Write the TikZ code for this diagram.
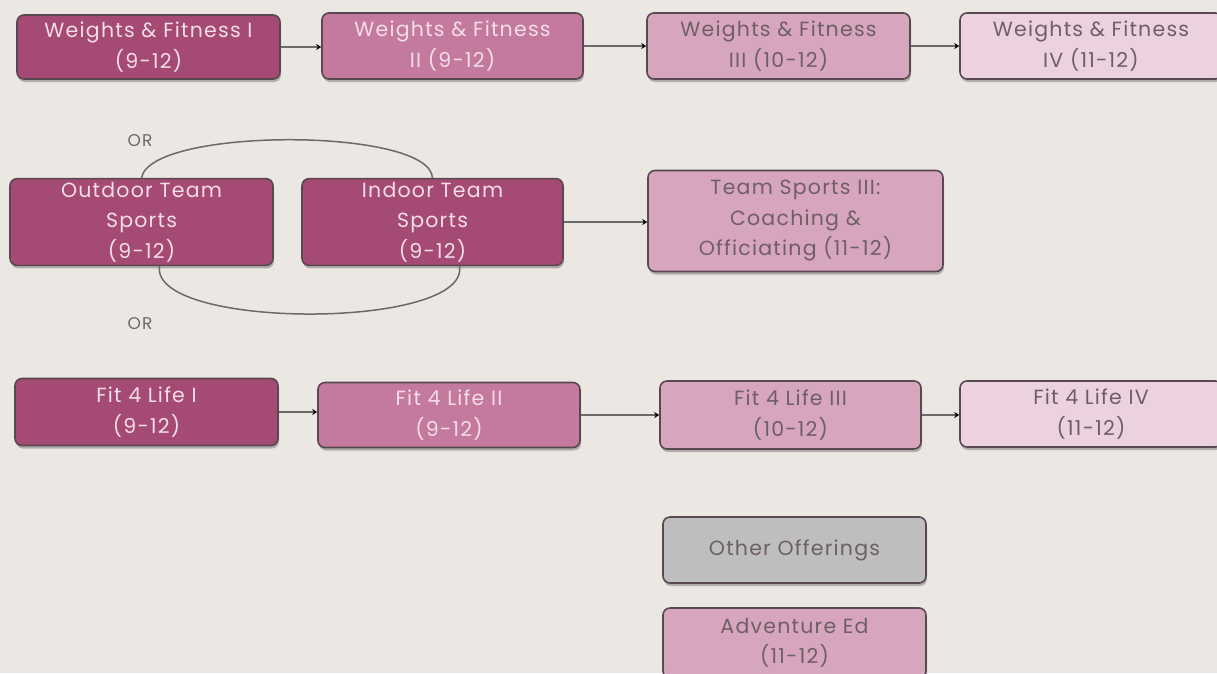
\documentclass[tikz,border=0pt]{standalone}
\usepackage{fontspec}
\setmainfont{Poppins}[LetterSpace=6]
\usetikzlibrary{shadows,arrows.meta,calc}
\definecolor{bg}{HTML}{EBE8E4}
\definecolor{cdark}{HTML}{A44A74}
\definecolor{cmed}{HTML}{C47A9F}
\definecolor{clight}{HTML}{D8A5BF}
\definecolor{cpale}{HTML}{ECD2DF}
\definecolor{cgrey}{HTML}{BEBEBE}
\definecolor{tlight}{HTML}{F4DCE8}
\definecolor{tdark}{HTML}{6E5F67}
\definecolor{edge}{HTML}{5A4850}
\definecolor{lineg}{HTML}{6A6A6A}
\tikzset{
  x=1pt, y=-1pt,
  box/.style={draw=edge, line width=1.6pt, rounded corners=7pt, align=center,
    font=\fontsize{20.5}{30.5}\selectfont,
    drop shadow={shadow xshift=1pt, shadow yshift=-3pt, opacity=0.25, fill=black}},
  bdark/.style={box, fill=cdark, text=tlight},
  bmed/.style={box, fill=cmed, text=tlight},
  blight/.style={box, fill=clight, text=tdark},
  bpale/.style={box, fill=cpale, text=tdark},
  bgrey/.style={box, fill=cgrey, text=tdark},
  conn/.style={draw=lineg, line width=2pt, -{Stealth[length=5pt,width=6pt,black]}},
  orarc/.style={draw=lineg, line width=1.5pt},
  ortext/.style={text=lineg, font=\fontsize{17}{19}\selectfont}
}
\begin{document}
\begin{tikzpicture}
\fill[bg] (0,0) rectangle (1217,673);
\useasboundingbox (0,0) rectangle (1217,673);

% top row
\node[bdark, minimum width=263pt, minimum height=64pt] (wf1) at (148.5,47) {Weights \& Fitness I\\(9-12)};
\node[bmed, minimum width=261pt, minimum height=66pt] (wf2) at (452.5,46) {Weights \& Fitness\\II (9-12)};
\node[blight, minimum width=263pt, minimum height=66pt] (wf3) at (778.5,46) {Weights \& Fitness\\III (10-12)};
\node[bpale, minimum width=262pt, minimum height=66pt] (wf4) at (1091,46) {Weights \& Fitness\\IV (11-12)};
\draw[conn] (wf1.east) -- (wf1.east -| wf2.west);
\draw[conn] (wf2.east) -- (wf3.west);
\draw[conn] (wf3.east) -- (wf4.west);

% middle row
\node[bdark, minimum width=263pt, minimum height=83pt] (out) at (141.5,222) {Outdoor Team\\Sports\\(9-12)};
\node[bdark, minimum width=261pt, minimum height=83pt] (ind) at (432.5,222) {Indoor Team\\Sports\\(9-12)};
\node[blight, minimum width=295pt, minimum height=101pt] (ts3) at (795.5,221) {Team Sports III:\\Coaching \&\\Officiating (11-12)};
\draw[conn] (ind.east) -- (ind.east -| ts3.west);

\draw[orarc] (out.north) .. controls (150,127) and (430,127) .. (ind.north);
\draw[orarc] ($(out.south)+(18,0)$) .. controls (150,330) and (470,330) .. ($(ind.south)+(27,0)$);
\node[ortext] (or1) at (140,141) {OR};
\node[ortext] (or2) at (140,324) {OR};

% bottom row
\node[bdark, minimum width=263pt, minimum height=67pt] (f1) at (146.5,412) {Fit 4 Life I\\(9-12)};
\node[bmed, minimum width=262pt, minimum height=65pt] (f2) at (449,415) {Fit 4 Life II\\(9-12)};
\node[blight, minimum width=261pt, minimum height=68pt] (f3) at (790.5,415) {Fit 4 Life III\\(10-12)};
\node[bpale, minimum width=262pt, minimum height=66pt] (f4) at (1091,414) {Fit 4 Life IV\\(11-12)};
\draw[conn] (f1.east) -- (f1.east -| f2.west);
\draw[conn] (f2.east) -- (f2.east -| f3.west);
\draw[conn] (f3.east) -- (f3.east -| f4.west);

% other
\node[bgrey, minimum width=263pt, minimum height=66pt] (oth) at (794.5,550) {Other Offerings};
\node[blight, minimum width=263pt, minimum height=70pt] (adv) at (794.5,643) {Adventure Ed\\(11-12)};
\end{tikzpicture}
\end{document}
